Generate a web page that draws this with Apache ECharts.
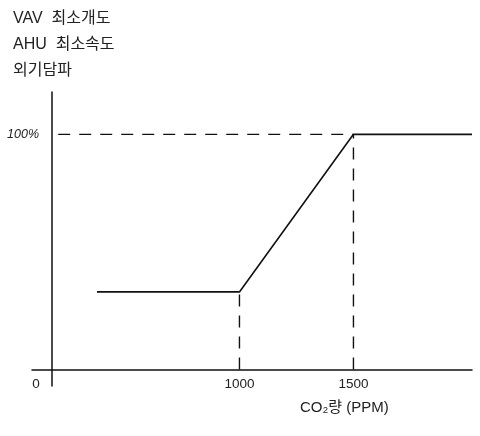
<!DOCTYPE html>
<html>
<head>
<meta charset="utf-8">
<script src="https://cdn.jsdelivr.net/npm/echarts@6/dist/echarts.min.js"></script>
<style>html,body{margin:0;padding:0;background:#fff}#c{width:480px;height:436px}</style>
</head>
<body>
<div id="c"></div>
<script>
// Data (schematic control curve)
const co2Values = [375, 1000, 1500, 2020];      // CO2 (PPM)
const openingValues = [33, 33, 100, 100];       // % minimum opening / speed
const hGuideX = [205, 1500];  const hGuideY = [100, 100];
const vGuide1X = [1000, 1000]; const vGuide1Y = [0, 33];
const vGuide2X = [1500, 1500]; const vGuide2Y = [0, 100];
const xTickValues = [108, 1000, 1500];
const xTickLabels = ['0', '1000', '1500'];
const yTickValues = [100];
const yTickLabels = ['100%'];
const titleLines = ['VAV  최소개도', 'AHU  최소속도', '외기담파'];
const xAxisName = 'CO₂량 (PPM)';

const FONT = '"Liberation Sans", "Noto Sans CJK KR", sans-serif';
const zip = (xs, ys) => xs.map((x, i) => [x, ys[i]]);
const dashed = (xs, ys) => ({
  type: 'line', data: zip(xs, ys), symbol: 'none', silent: true,
  lineStyle: { color: '#111', width: 1.4, type: [12, 9] }
});

const chart = echarts.init(document.getElementById('c'), null, { renderer: 'canvas' });
chart.setOption({
  animation: false,
  backgroundColor: '#fff',
  textStyle: { fontFamily: FONT },
  title: {
    text: titleLines.join('\n'),
    left: 8, top: 1,
    textStyle: { fontSize: 16, fontWeight: 'normal', color: '#222', lineHeight: 26, fontFamily: FONT }
  },
  graphic: [{
    type: 'text', left: 300, top: 400,
    style: { text: xAxisName, fontSize: 15, fill: '#222', fontFamily: FONT }
  }],
  grid: { left: 32, right: 8, top: 92, bottom: 50 },
  xAxis: {
    type: 'value', min: 90, max: 2020,
    splitLine: { show: false },
    axisTick: { show: false },
    axisLine: { onZero: true, lineStyle: { color: '#111', width: 1.5 } },
    axisLabel: {
      customValues: xTickValues,
      formatter: v => xTickLabels[xTickValues.indexOf(v)] ?? '',
      margin: -8, fontSize: 13.5, color: '#222', fontFamily: FONT
    }
  },
  yAxis: {
    type: 'value', min: -7, max: 118, offset: -20,
    splitLine: { show: false },
    axisTick: { show: false },
    axisLine: { show: true, onZero: false, lineStyle: { color: '#111', width: 1.5 } },
    axisLabel: {
      customValues: yTickValues,
      formatter: v => yTickLabels[yTickValues.indexOf(v)] ?? '',
      margin: 13, fontSize: 12.5, color: '#222', fontStyle: 'italic', fontFamily: FONT
    }
  },
  series: [
    {
      type: 'line', data: zip(co2Values, openingValues), symbol: 'none',
      lineStyle: { color: '#111', width: 1.6 }
    },
    dashed(hGuideX, hGuideY),
    dashed(vGuide1X, vGuide1Y),
    dashed(vGuide2X, vGuide2Y)
  ]
});
</script>
</body>
</html>
